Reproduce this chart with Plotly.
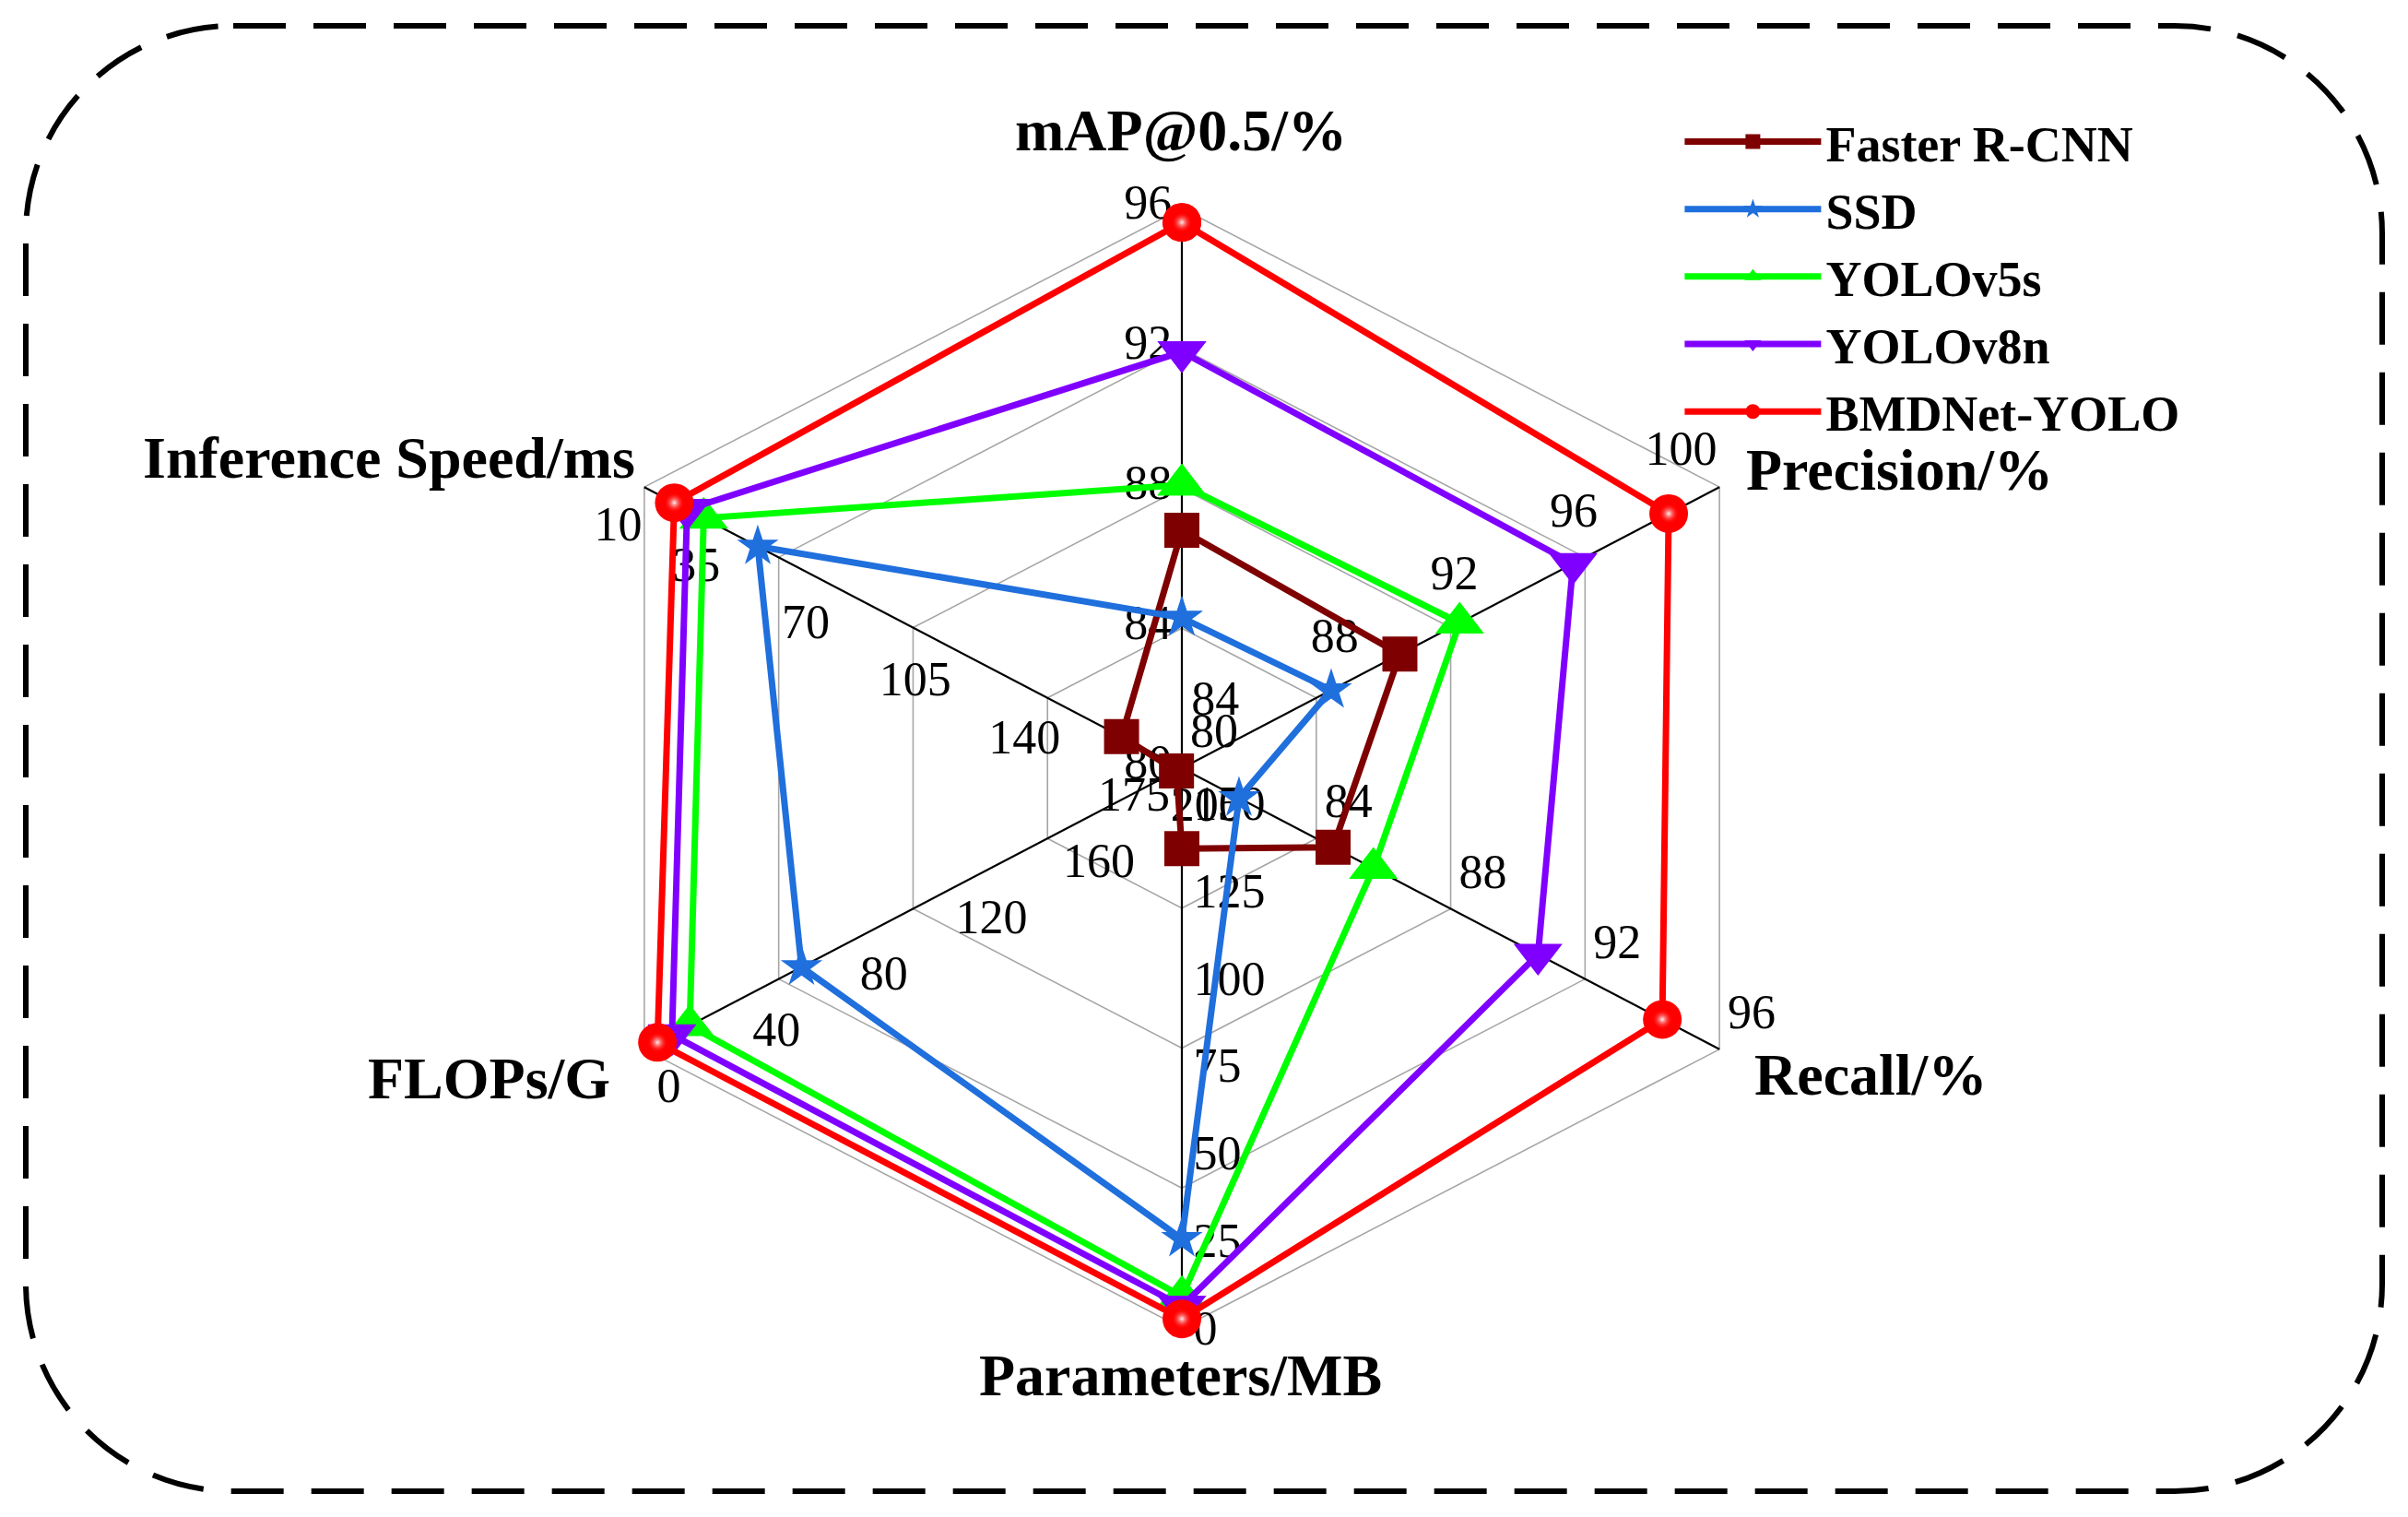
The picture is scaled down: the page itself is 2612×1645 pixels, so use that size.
import math
import plotly.graph_objects as go

# ---------------- data ----------------
axis_names = ["mAP@0.5/%", "Precision/%", "Recall/%", "Parameters/MB", "FLOPs/G", "Inference Speed/ms"]
# value sitting at the centre of each spoke and value at its outer end
axis_center_value = [80, 82, 80, 160, 200, 182]
axis_outer_value = [96, 100, 96, 0, 0, 10]

map_ticks = [80, 84, 88, 92, 96]
precision_ticks = [84, 88, 92, 96, 100]
recall_ticks = [80, 84, 88, 92, 96]
params_ticks = [150, 125, 100, 75, 50, 25, 0]
flops_ticks = [200, 160, 120, 80, 40, 0]
speed_ticks = [175, 140, 105, 70, 35, 10]

model_names = ["Faster R-CNN", "SSD", "YOLOv5s", "YOLOv8n", "BMDNet-YOLO"]
#              mAP   Prec  Rec   Params FLOPs Speed
faster_rcnn = [86.8, 89.3, 84.5, 137.0, 198.0, 162.7]
ssd = [84.3, 87.0, 81.7, 25.5, 58.5, 46.3]
yolov5s = [88.1, 91.3, 85.7, 9.0, 16.9, 29.0]
yolov8n = [91.9, 95.1, 90.6, 6.2, 10.3, 23.7]
bmdnet_yolo = [95.6, 98.3, 94.3, 2.6, 4.9, 19.6]

# ---------------- geometry & style ----------------
spoke_theta = [90, 27.6, -27.6, -90, 207.6, 152.4]
spoke_len = [1.0, 1.084, 1.084, 1.0, 1.084, 1.084]
n_rings = 4
R_MAX = 1.2          # radial range kept larger than the spokes so outer labels are not dropped
FONT = "Liberation Serif"
UNIT_PX = 364.4      # screen px (at 1568 width) of one radial unit, used for label offsets

series = [
    (model_names[0], faster_rcnn, "#7f0000", "square", 38),
    (model_names[1], ssd, "#1f6fdd", "star", 34),
    (model_names[2], yolov5s, "#00ff00", "triangle-up", 46),
    (model_names[3], yolov8n, "#8000ff", "triangle-down", 46),
    (model_names[4], bmdnet_yolo, "#ff0000", "circle", 42),
]


def to_r(i, v):
    c, o = axis_center_value[i], axis_outer_value[i]
    return (v - c) / (o - c) * spoke_len[i]


def shifted(i, v, dx, dy):
    """tick position on spoke i moved by (dx right, dy down) screen px -> (r, theta)"""
    r = to_r(i, v)
    th = math.radians(spoke_theta[i])
    x = r * math.cos(th) + dx / UNIT_PX
    y = r * math.sin(th) - dy / UNIT_PX
    return math.hypot(x, y), math.degrees(math.atan2(y, x))


fig = go.Figure()

# hexagonal rings
rr, tt = [], []
for k in range(1, n_rings + 1):
    f = k / n_rings
    for i in list(range(6)) + [0]:
        rr.append(f * spoke_len[i])
        tt.append(spoke_theta[i])
    rr.append(None)
    tt.append(None)
fig.add_trace(go.Scatterpolar(r=rr, theta=tt, mode="lines", line=dict(color="#a6a6a6", width=1.6),
                              showlegend=False, hoverinfo="skip", cliponaxis=False))

# spokes
rr, tt = [], []
for i in range(6):
    rr += [0, spoke_len[i], None]
    tt += [spoke_theta[i], spoke_theta[i], None]
fig.add_trace(go.Scatterpolar(r=rr, theta=tt, mode="lines", line=dict(color="black", width=2.2),
                              showlegend=False, hoverinfo="skip", cliponaxis=False))

# tick labels of each spoke
tick_sets = [map_ticks, precision_ticks, recall_ticks, params_ticks, flops_ticks, speed_ticks]
tick_style = [
    ("middle left", -6.5, -1.0),
    ("middle left", -1.5, -22.5),
    ("middle center", 21.0, -21.5),
    ("middle right", 7.5, 3.0),
    ("middle center", 16.0, 26.5),
    ("middle center", -17.0, 27.0),
]
for i, ticks in enumerate(tick_sets):
    pos, dx, dy = tick_style[i]
    pts = [shifted(i, v, dx, dy) for v in ticks]
    fig.add_trace(go.Scatterpolar(
        r=[p[0] for p in pts], theta=[p[1] for p in pts],
        mode="text", text=[str(v) for v in ticks], textposition=pos,
        textfont=dict(family=FONT, size=52, color="black"),
        showlegend=False, hoverinfo="skip", cliponaxis=False))

# data series
for name, vals, color, sym, size in series:
    r = [to_r(i, v) for i, v in enumerate(vals)]
    r.append(r[0])
    th = spoke_theta + [spoke_theta[0]]
    fig.add_trace(go.Scatterpolar(r=r, theta=th, mode="lines+markers", name=name,
                                  line=dict(color=color, width=7),
                                  marker=dict(symbol=sym, size=size, color=color, line=dict(width=0)),
                                  cliponaxis=False))
    if sym == "circle":  # glossy highlight of the sphere markers
        fig.add_trace(go.Scatterpolar(r=r[:-1], theta=spoke_theta, mode="markers",
                                      marker=dict(symbol="circle", size=22, color="rgba(255,0,0,0)",
                                                  gradient=dict(type="radial", color="rgba(255,255,255,0.95)"),
                                                  line=dict(width=0)),
                                      showlegend=False, hoverinfo="skip", cliponaxis=False))

# axis titles
title_font = dict(family=FONT, size=64, color="black", weight="bold")
title_pos = [
    (0.4906, 0.9139, "center"),
    (0.7243, 0.690, "left"),
    (0.7277, 0.2912, "left"),
    (0.4904, 0.0936, "center"),
    (0.2544, 0.2888, "right"),
    (0.2647, 0.698, "right"),
]
annotations = []
for name, (x, y, xa) in zip(axis_names, title_pos):
    annotations.append(dict(x=x, y=y, xref="paper", yref="paper", text=name, showarrow=False,
                            xanchor=xa, yanchor="middle", font=title_font))

# dashed rounded frame
W, H = 2612, 1645
x0, x1 = 28 / W, 2584 / W
y0, y1 = 1 - 1617 / H, 1 - 28 / H
rx, ry = 225 / W, 225 / H
k = 0.5523
path = (
    f"M {x0 + rx},{y1} L {x1 - rx},{y1} "
    f"C {x1 - rx + k * rx},{y1} {x1},{y1 - ry + k * ry} {x1},{y1 - ry} "
    f"L {x1},{y0 + ry} "
    f"C {x1},{y0 + ry - k * ry} {x1 - rx + k * rx},{y0} {x1 - rx},{y0} "
    f"L {x0 + rx},{y0} "
    f"C {x0 + rx - k * rx},{y0} {x0},{y0 + ry - k * ry} {x0},{y0 + ry} "
    f"L {x0},{y1 - ry} "
    f"C {x0},{y1 - ry + k * ry} {x0 + rx - k * rx},{y1} {x0 + rx},{y1} Z"
)
shapes = [dict(type="path", xref="paper", yref="paper", path=path,
               line=dict(color="black", width=6, dash="57px,30px"))]

cx, cy = 1282, 833
rpx = 607 * R_MAX
fig.update_layout(
    width=W, height=H,
    margin=dict(l=0, r=0, t=0, b=0),
    paper_bgcolor="white",
    polar=dict(
        domain=dict(x=[(cx - rpx) / W, (cx + rpx) / W], y=[(H - cy - rpx) / H, (H - cy + rpx) / H]),
        bgcolor="rgba(0,0,0,0)",
        radialaxis=dict(visible=False, range=[0, R_MAX]),
        angularaxis=dict(visible=False, direction="counterclockwise", rotation=0),
    ),
    legend=dict(x=0.6977, y=0.932, xanchor="left", yanchor="top", bgcolor="rgba(0,0,0,0)",
                font=dict(family=FONT, size=54, color="black", weight="bold"),
                itemwidth=148, tracegroupgap=0),
    annotations=annotations,
    shapes=shapes,
)

fig.write_html("out.html", config={"displayModeBar": False},
               post_script="document.body.style.margin='0px';")
